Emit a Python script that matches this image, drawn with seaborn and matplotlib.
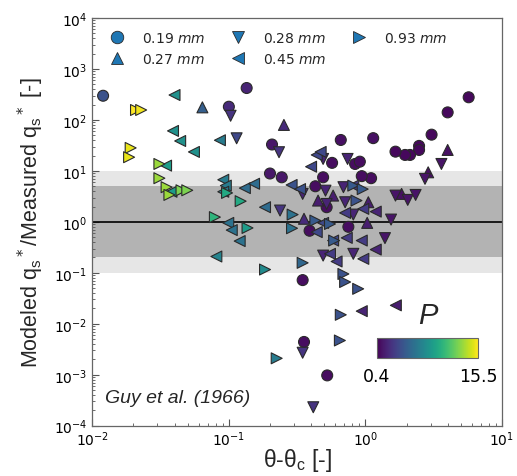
import numpy as np
import pandas as pd
import matplotlib
matplotlib.use("Agg")
import matplotlib.pyplot as plt
import seaborn as sns
from matplotlib.lines import Line2D

# ---------------- data ----------------
# 0.19 mm (circles)
x_019 = [0.012, 0.10, 0.135, 0.207, 0.20, 0.244, 0.66, 1.14, 5.7, 4.0, 3.05, 2.47, 2.47, 2.12,
         1.95, 1.66, 0.84, 0.91, 0.57, 1.10, 0.94, 0.49, 0.43, 0.39, 0.52, 0.75, 0.347, 0.355, 0.525]
y_019 = [299, 182, 424, 33, 8.9, 7.5, 40.5, 44, 279, 141, 51.5, 31, 25.8, 20.6,
         20.6, 23.9, 13.7, 15.2, 14.4, 7.2, 7.9, 7.5, 5.0, 0.67, 1.94, 0.80, 0.072, 0.0044, 0.00097]
p_019 = [4.2, 2.2, 1.9, 1.3, 1.3, 1.3, 1.0, 1.0, 0.7, 0.7, 0.7, 0.7, 0.7, 0.7,
         0.7, 0.7, 0.9, 0.9, 0.9, 0.9, 0.9, 0.9, 0.9, 0.9, 0.9, 0.9, 0.9, 0.9, 0.9]

# 0.27 mm (up triangles)
x_027 = [0.064, 0.253, 4.0, 2.88, 1.84, 0.355, 1.03, 0.45, 0.58, 1.05]
y_027 = [177, 80, 25.8, 9.4, 3.54, 1.15, 0.955, 2.62, 3.28, 2.43]
p_027 = [4.9, 2.2, 1.0, 1.0, 1.0, 2.2, 1.6, 1.6, 1.6, 1.6]

# 0.28 mm (down triangles)
x_028 = [0.103, 0.114, 0.233, 0.237, 3.6, 2.73, 1.66, 2.04, 2.33, 1.54, 1.39, 0.74, 0.347,
         0.347, 0.415, 0.49, 0.815, 0.51, 0.52, 0.71, 0.69, 0.815, 0.49]
y_028 = [121, 43.7, 23.3, 1.67, 13.7, 7.0, 3.28, 2.70, 3.38, 1.11, 0.48, 17.2, 3.54,
         0.0027, 0.00023, 0.218, 0.236, 4.1, 2.25, 2.43, 4.8, 1.39, 17.2]
p_028 = [2.7, 3.7, 2.7, 2.7, 1.2, 1.2, 1.2, 1.2, 1.2, 1.2, 1.2, 1.9, 1.9,
         2.7, 2.7, 1.9, 1.9, 1.9, 1.9, 1.9, 1.9, 1.9, 1.9]

# 0.45 mm (left triangles)
x_045 = [0.040, 0.039, 0.044, 0.0555, 0.086, 0.0347, 0.038, 0.091, 0.095, 0.091, 0.131, 0.153,
         0.184, 0.099, 0.105, 0.12, 0.081, 1.67, 0.94, 0.44, 0.47, 0.40, 0.288, 0.332, 1.19,
         0.71, 0.49, 0.73, 0.94, 1.19, 0.55, 0.965, 0.615, 0.44, 0.58, 0.815, 0.965]
y_045 = [309, 61, 38.7, 23.6, 40, 12.7, 3.9, 6.7, 5.15, 3.9, 4.6, 5.6,
         1.94, 0.955, 0.69, 0.42, 0.209, 0.023, 0.0177, 20.6, 23.6, 12.1, 5.3, 4.4, 1.59,
         1.50, 0.955, 0.485, 0.43, 0.286, 0.236, 0.188, 0.167, 0.63, 0.43, 5.15, 1.80]
p_045 = [8.0, 8.0, 8.0, 8.0, 6.7, 8.7, 8.7, 6.7, 6.7, 6.7, 5.7, 5.7,
         5.7, 6.1, 6.1, 6.1, 7.2, 1.6, 1.9, 3.7, 3.7, 3.7, 4.2, 4.2, 1.9,
         3.0, 3.7, 3.0, 3.0, 1.9, 3.0, 3.0, 3.0, 3.7, 3.7, 3.0, 3.0]

# 0.93 mm (right triangles)
x_093 = [0.0209, 0.0228, 0.0191, 0.0186, 0.031, 0.031, 0.035, 0.0367, 0.045, 0.0496, 0.097,
         0.122, 0.079, 0.137, 0.293, 0.29, 0.184, 0.224, 0.347, 0.69, 0.71, 0.885, 0.66, 0.65,
         0.815, 0.955, 0.86, 0.55, 0.59, 0.43]
y_093 = [157, 157, 28.3, 18.6, 13.7, 7.2, 4.8, 3.38, 4.17, 4.17, 3.7,
         2.55, 1.24, 0.76, 1.39, 0.75, 0.116, 0.0021, 0.157, 0.095, 0.066, 0.0485, 0.015, 0.0047,
         5.15, 4.4, 2.62, 0.91, 0.43, 1.06]
p_093 = [15.5, 15.2, 15.0, 15.0, 13.2, 13.2, 13.2, 13.2, 12.5, 12.5, 9.5,
         9.5, 10.2, 8.7, 6.1, 6.1, 7.6, 6.7, 5.4, 4.2, 4.2, 4.2, 4.2, 4.2,
         4.6, 4.6, 4.2, 4.6, 4.6, 4.6]

grain_labels = ["0.19", "0.27", "0.28", "0.45", "0.93"]
p_min, p_max = 0.4, 15.5
band_outer = (0.1, 10)
band_inner = (0.2, 5)

# ---------------- build table ----------------
groups = [(x_019, y_019, p_019, "0.19"), (x_027, y_027, p_027, "0.27"),
          (x_028, y_028, p_028, "0.28"), (x_045, y_045, p_045, "0.45"),
          (x_093, y_093, p_093, "0.93")]
frames = []
for xs, ys, ps, lab in groups:
    frames.append(pd.DataFrame({"x": xs, "y": ys, "P": ps, "d": lab}))
df = pd.concat(frames, ignore_index=True)

marker_map = {"0.19": "o", "0.27": "^", "0.28": "v", "0.45": "<", "0.93": ">"}

# ---------------- style ----------------
sns.set_style("white")
plt.rcParams.update({
    "font.family": ["DejaVu Sans"],
    "xtick.bottom": True, "ytick.left": True,
    "xtick.direction": "in", "ytick.direction": "in",
    "xtick.color": "#555555", "ytick.color": "#555555",
    "xtick.labelcolor": "black", "ytick.labelcolor": "black",
    "axes.edgecolor": "#666666",
})

fig = plt.figure(figsize=(5.17, 4.77), dpi=100)
ax = fig.add_axes([0.1785, 0.1055, 0.7925, 0.8545])

ax.axhspan(*band_outer, color="#e6e6e6", zorder=0, lw=0)
ax.axhspan(*band_inner, color="#b3b3b3", zorder=0, lw=0)
ax.axhline(1, color="black", lw=1.2, zorder=1)

sns.scatterplot(data=df, x="x", y="y", hue="P", hue_norm=(p_min, p_max), palette="viridis",
                style="d", markers=marker_map, s=62, edgecolor="#2a2a2a", linewidth=0.8,
                legend=False, ax=ax, zorder=3)

ax.set_xscale("log")
ax.set_yscale("log")
ax.set_xlim(1e-2, 1e1)
ax.set_ylim(1e-4, 1e4)
ax.yaxis.set_major_locator(matplotlib.ticker.LogLocator(base=10, numticks=12))
ax.yaxis.set_minor_locator(matplotlib.ticker.LogLocator(base=10, subs=np.arange(2, 10), numticks=12))
ax.tick_params(which="major", length=5, width=0.8, labelsize=10)
ax.tick_params(axis="x", which="major", pad=2.5)
ax.tick_params(which="minor", length=2.5, width=0.6)
for sp in ax.spines.values():
    sp.set_linewidth(0.9)

ax.set_xlabel(r"θ-θ$_\mathregular{c}$ [-]", fontsize=16.5, family="Liberation Sans", labelpad=-1)
ax.set_ylabel(r"Modeled q$_\mathregular{s}$$^*$/Measured q$_\mathregular{s}$$^*$ [-]",
              fontsize=15.5, family="Liberation Sans", labelpad=6)

ax.text(0.031, 0.07, "Guy et al. (1966)", transform=ax.transAxes, fontsize=14,
        style="italic", family="Liberation Sans", va="center", ha="left")

# legend
handles = [Line2D([], [], linestyle="none", marker=marker_map[g], markersize=9,
                  markerfacecolor="#1f77b4", markeredgecolor="#2a2a2a", markeredgewidth=0.6,
                  label=g + r" $mm$") for g in grain_labels]
ax.legend(handles=handles, loc="upper left", ncol=3, frameon=False, fontsize=10,
          bbox_to_anchor=(0.005, 0.988), columnspacing=1.35, handletextpad=0.8,
          labelspacing=0.45, borderaxespad=0.2)

# colorbar inset
cax = fig.add_axes([0.7286, 0.2467, 0.1965, 0.0419])
sm = matplotlib.cm.ScalarMappable(norm=matplotlib.colors.Normalize(p_min, p_max), cmap="viridis")
cb = fig.colorbar(sm, cax=cax, orientation="horizontal", ticks=[p_min, p_max])
cb.ax.set_xticklabels([f"{p_min}", f"{p_max}"])
cb.ax.tick_params(length=0, labelsize=12.5, pad=6)
cb.outline.set_edgecolor("#666666")
cb.outline.set_linewidth(0.8)
fig.text(428 / 517, 1 - 316 / 477, "P", fontsize=21, style="italic",
         family="Liberation Sans", ha="center", va="center")

fig.savefig("out.png", dpi=100)
